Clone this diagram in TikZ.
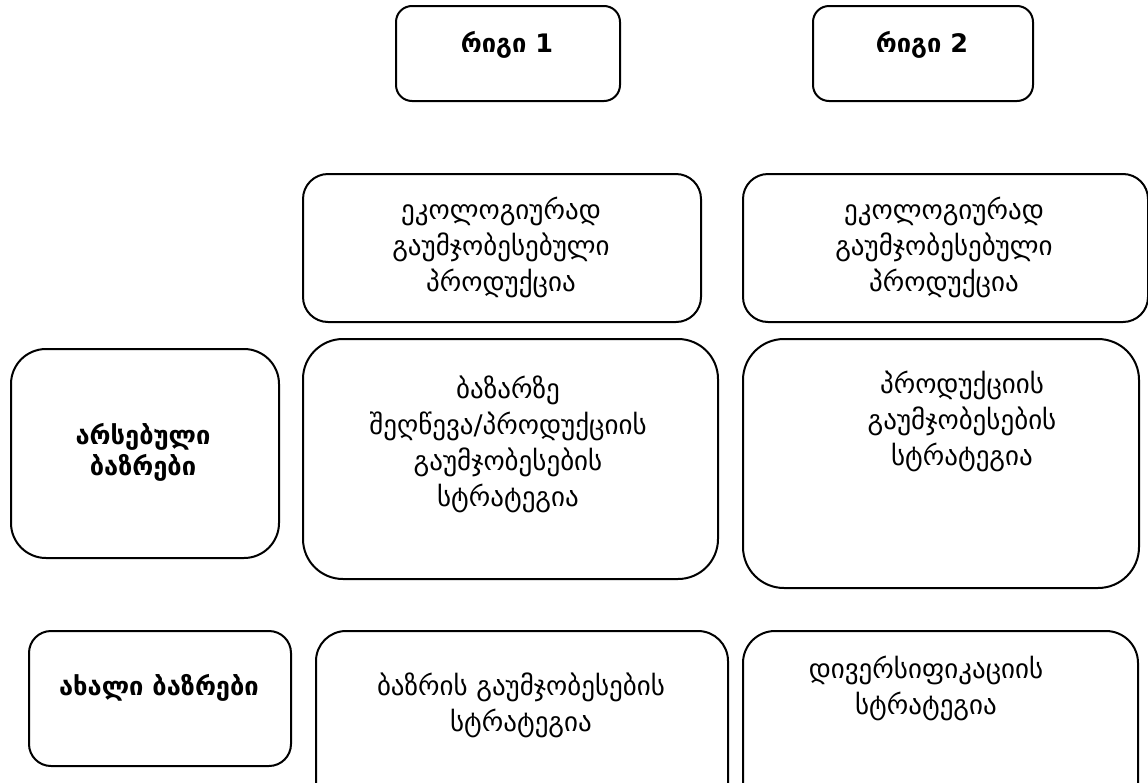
\documentclass[tikz,border=0pt]{standalone}
\usepackage{fontspec}
\setmainfont{DejaVu Sans}
\begin{document}
\begin{tikzpicture}[x=1pt,y=-1pt,
  box/.style={draw, line width=2pt, rounded corners=#1, inner sep=0pt, anchor=north west},
  txt/.style={font=\fontsize{27}{36}\selectfont, align=center, inner sep=0pt},
  bold/.style={font=\bfseries\fontsize{25.5}{31}\selectfont, align=center, inner sep=0pt}]
\useasboundingbox (0,0) rectangle (1148,782);
\clip (0,0) rectangle (1148,782);

% column headers
\node[box=16pt, minimum width=224pt, minimum height=95pt] (h1) at (395,5) {};
\node[box=16pt, minimum width=220pt, minimum height=95pt] (h2) at (812,5) {};
\node[bold] (h1t) at (507,45) {რიგი 1};
\node[bold] (h2t) at (922,45) {რიგი 2};

% first row
\node[box=25pt, minimum width=398pt, minimum height=148pt] (r1a) at (302,173) {};
\node[box=25pt, minimum width=405pt, minimum height=148pt] (r1b) at (742,173) {};
\node[txt] (r1at) at (501,247) {ეკოლოგიურად\\გაუმჯობესებული\\პროდუქცია};
\node[txt] (r1bt) at (944,247) {ეკოლოგიურად\\გაუმჯობესებული\\პროდუქცია};

% existing markets
\node[box=35pt, minimum width=268pt, minimum height=209pt] (r2l) at (10,348) {};
\node[box=40pt, minimum width=415pt, minimum height=240pt] (r2m) at (302,338) {};
\node[box=41pt, minimum width=396pt, minimum height=249pt] (r2r) at (742,338) {};
\node[bold] (r2lt) at (143,452) {არსებული\\ბაზრები};
\node[txt] (r2mt) at (508,444) {ბაზარზე\\შეღწევა/პროდუქციის\\გაუმჯობესების\\სტრატეგია};
\node[txt] (r2rt) at (962,421) {პროდუქციის\\გაუმჯობესების\\სტრატეგია};

% new markets
\node[box=22pt, minimum width=262pt, minimum height=135pt] (r3l) at (28,630) {};
\node[box=30pt, minimum width=412pt, minimum height=182pt] (r3m) at (315,630) {};
\node[box=32pt, minimum width=395pt, minimum height=192pt] (r3r) at (742,630) {};
\node[bold] (r3lt) at (159,688) {ახალი ბაზრები};
\node[txt] (r3mt) at (521,705) {ბაზრის გაუმჯობესების\\სტრატეგია};
\node[txt] (r3rt) at (926,688) {დივერსიფიკაციის\\სტრატეგია};
\end{tikzpicture}
\end{document}
